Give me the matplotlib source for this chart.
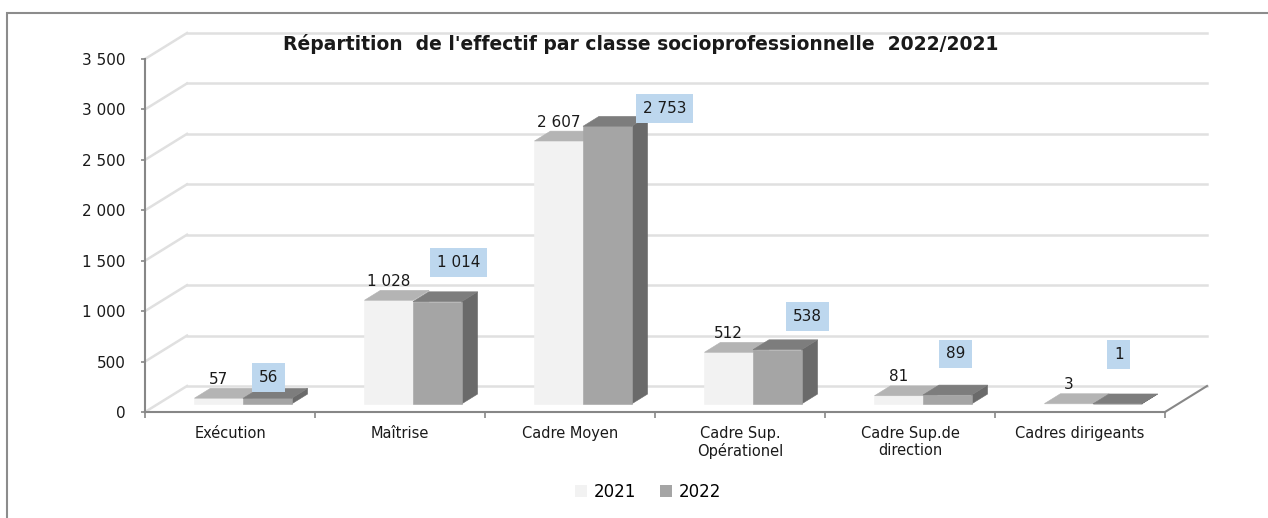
import numpy as np
import matplotlib
matplotlib.use("Agg")
import matplotlib.pyplot as plt
from matplotlib.patches import Polygon, Patch, Rectangle
from matplotlib.ticker import FuncFormatter

# ---------------- données ----------------
categories = ["Exécution", "Maîtrise", "Cadre Moyen", "Cadre Sup.\nOpérationel",
              "Cadre Sup.de\ndirection", "Cadres dirigeants"]
effectif_2021 = [57, 1028, 2607, 512, 81, 3]
effectif_2022 = [56, 1014, 2753, 538, 89, 1]
annees = ["2021", "2022"]
titre = "Répartition  de l'effectif par classe socioprofessionnelle  2022/2021"

# ---------------- mise en page (pixels) ----------------
W, H = 1268, 518
X0, X1 = 145, 1165      # axe des x (plan avant)
Y0, Y1 = 412, 59        # 0 et 3500 (plan avant)
YMAX = 3500
DX_PX, DY_PX = 42, 26   # profondeur du "3D"
F0, F1 = 0.31, 0.69     # position des barres dans la profondeur
LARG = 1 / 3.5          # largeur barre (écart 150%)
# décalage manuel des étiquettes 2022 (pixels)
decal_2022 = [(1.5, 21), (21, 39.5), (57, 17.5), (30.5, 33.5), (8.5, 41), (1.5, 49)]

c_avant = ["#f2f2f2", "#a5a5a5"]
c_dessus = ["#b4b4b4", "#7d7d7d"]
c_cote = ["#d0d0d0", "#6a6a6a"]
c_grille = "#e0e0e0"
c_axe = "#878787"
c_texte = "#1a1a1a"

plt.rcParams["font.family"] = ["DejaVu Sans"]

fig = plt.figure(figsize=(W / 100, H / 100), dpi=100)
ax = fig.add_axes([X0 / W, 1 - Y0 / H, (X1 - X0) / W, (Y0 - Y1) / H])
n = len(categories)
ax.set_xlim(0, n)
ax.set_ylim(0, YMAX)
ax.patch.set_alpha(0)

# conversion profondeur -> unités des données
dxu = DX_PX / ((X1 - X0) / n)
dyu = DY_PX * YMAX / (Y0 - Y1)


def P(x, v, f):
    return (x + f * dxu, v + f * dyu)


# ---------------- axes ----------------
for s in ["top", "right"]:
    ax.spines[s].set_visible(False)
for s in ["left", "bottom"]:
    ax.spines[s].set_color(c_axe)
    ax.spines[s].set_linewidth(1.5)
    ax.spines[s].set_zorder(4)

yt = np.arange(0, YMAX + 1, 500)
ax.set_yticks(yt)
ax.yaxis.set_major_formatter(FuncFormatter(lambda v, p: f"{int(v):,}".replace(",", " ")))
ax.tick_params(axis="y", direction="out", length=3, color=c_axe, width=1.2,
               labelsize=11, labelcolor=c_texte, pad=11)
ax.set_xticks(range(n + 1))
ax.set_xticklabels([])
ax.tick_params(axis="x", which="major", direction="out", length=4, color=c_axe, width=1.2)
ax.set_xticks(np.arange(n) + 0.5, minor=True)
ax.set_xticklabels(categories, minor=True)
ax.tick_params(axis="x", which="minor", length=0, pad=10, labelsize=10.5,
               labelcolor=c_texte)

# ---------------- murs / grille ----------------
for v in yt:
    a, b = P(0, v, 0), P(0, v, 1)
    ax.plot([a[0], b[0]], [a[1], b[1]], color=c_grille, lw=1.8, zorder=1, clip_on=False)
    c = P(n, v, 1)
    ax.plot([b[0], c[0]], [b[1], c[1]], color=c_grille, lw=1.8, zorder=1, clip_on=False)
a, b = P(n, 0, 0), P(n, 0, 1)
ax.plot([a[0], b[0]], [a[1], b[1]], color=c_axe, lw=1.5, zorder=1, clip_on=False)

# ---------------- barres ----------------
series = [effectif_2021, effectif_2022]
for i in range(n):
    for s in range(2):
        v = series[s][i]
        x0 = i + 0.5 + (s - 1) * LARG
        x1 = x0 + LARG
        cote = [P(x1, 0, F0), P(x1, 0, F1), P(x1, v, F1), P(x1, v, F0)]
        avant = [P(x0, 0, F0), P(x1, 0, F0), P(x1, v, F0), P(x0, v, F0)]
        dessus = [P(x0, v, F0), P(x1, v, F0), P(x1, v, F1), P(x0, v, F1)]
        for pts, col in [(cote, c_cote[s]), (avant, c_avant[s]), (dessus, c_dessus[s])]:
            ax.add_patch(Polygon(pts, closed=True, fc=col, ec=col, lw=0.4,
                                 zorder=3, clip_on=False))
        xc = P(x0 + LARG / 2, v, F0)
        txt = f"{v:,}".replace(",", " ")
        if s == 0:
            ax.annotate(txt, xy=xc, xytext=(0, 19), textcoords="offset pixels",
                        ha="center", va="center", fontsize=11, color=c_texte,
                        zorder=6, annotation_clip=False)
        else:
            ax.annotate(txt, xy=xc, xytext=decal_2022[i], textcoords="offset pixels",
                        ha="center", va="center", fontsize=11, color=c_texte,
                        zorder=6, annotation_clip=False,
                        bbox=dict(boxstyle="square,pad=0.45", fc="#bdd7ee", ec="none"))

# ---------------- titre, légende, cadre ----------------
fig.text(641 / W, 1 - 44 / H, titre, ha="center", va="center", fontsize=13.5,
         fontweight="bold", color=c_texte)

poignees = [Patch(fc=c_avant[0], ec="none"), Patch(fc=c_avant[1], ec="none")]
fig.legend(poignees, annees, loc="center", bbox_to_anchor=(648 / W, 1 - 492 / H),
           ncol=2, frameon=False, fontsize=12, handlelength=0.75, handleheight=0.75,
           handletextpad=0.4, columnspacing=1.4)

fig.add_artist(Rectangle((7 / W, -0.1), 1.2, 1.1 - 13 / H, transform=fig.transFigure,
                         fill=False, ec="#8c8c8c", lw=1.5))

fig.savefig("out.png", dpi=100)
